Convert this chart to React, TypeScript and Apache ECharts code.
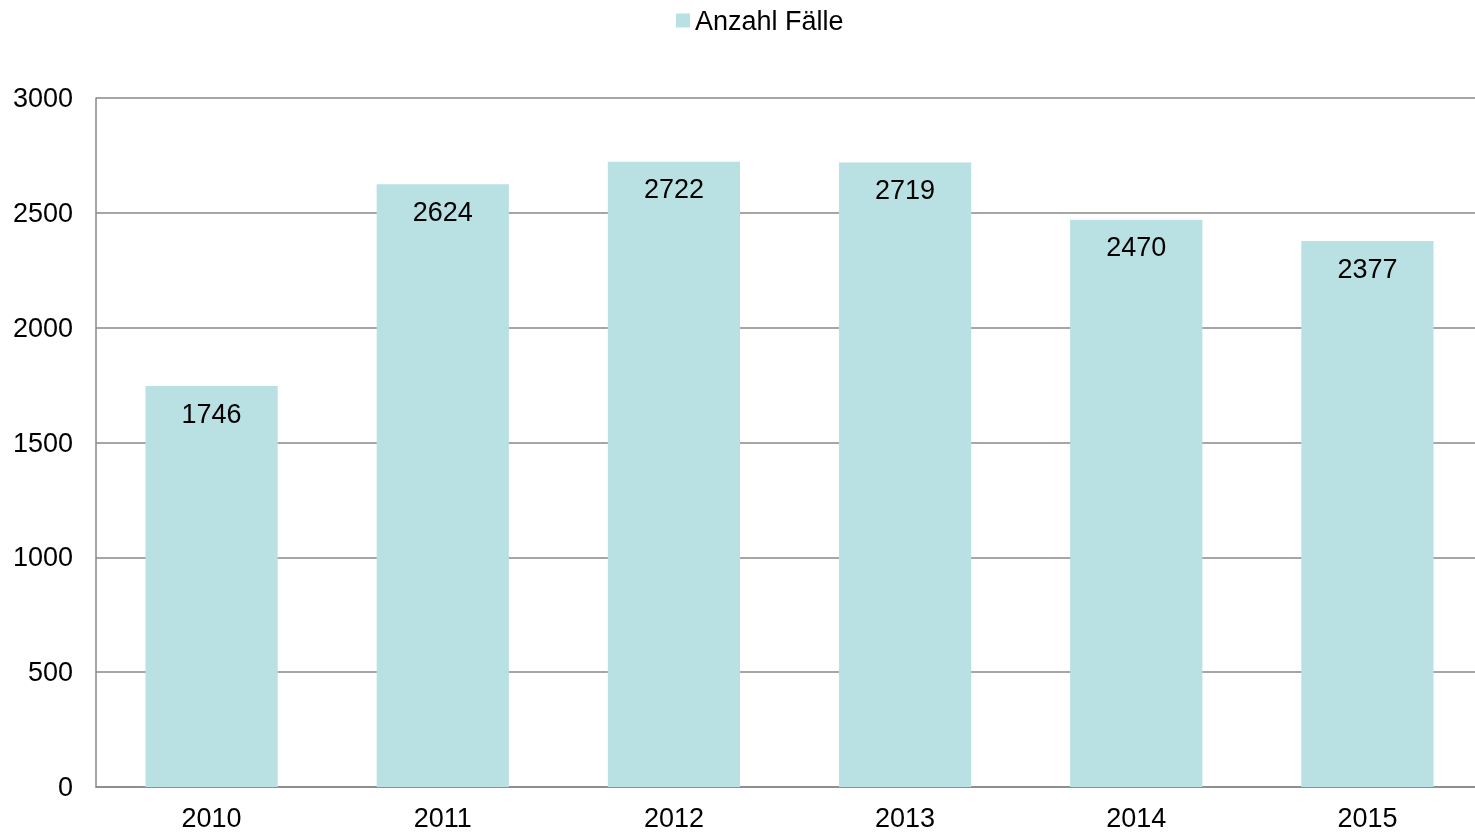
import React, { useEffect, useRef } from "react";
import * as echarts from "echarts";

const categories = ["2010", "2011", "2012", "2013", "2014", "2015"];
const values = [1746, 2624, 2722, 2719, 2470, 2377];
const seriesName = "Anzahl Fälle";

export default function App() {
  const ref = useRef<HTMLDivElement>(null);
  useEffect(() => {
    if (!ref.current) return;
    const chart = echarts.init(ref.current, undefined, { renderer: "svg" });
    const font = "Liberation Sans, Arial, sans-serif";
    chart.setOption({
      animation: false,
      textStyle: { fontFamily: font },
      legend: {
        top: 2,
        left: 671,
        itemWidth: 14,
        itemHeight: 14,
        itemGap: 10,
        icon: "rect",
        textStyle: { fontSize: 27, color: "#000", fontFamily: font },
        data: [seriesName],
      },
      grid: { left: 96, right: 0, top: 98, bottom: 45, containLabel: false },
      xAxis: {
        type: "category",
        data: categories,
        axisLine: { show: true, lineStyle: { color: "#888", width: 1.5 } },
        axisTick: { show: false },
        axisLabel: {
          fontSize: 27,
          lineHeight: 20,
          color: "#000",
          margin: 21,
          fontFamily: font,
        },
      },
      yAxis: {
        type: "value",
        min: 0,
        max: 3000,
        interval: 500,
        axisLine: { show: true, lineStyle: { color: "#888", width: 1.5 } },
        axisTick: { show: false },
        axisLabel: {
          fontSize: 27,
          color: "#000",
          margin: 23,
          fontFamily: font,
          formatter: (v: number) => String(v),
        },
        splitLine: { show: true, lineStyle: { color: "#888", width: 1.5 } },
      },
      series: [
        {
          name: seriesName,
          type: "bar",
          data: values,
          barCategoryGap: "42.8%",
          itemStyle: { color: "#b9e0e2" },
          label: {
            show: true,
            position: "insideTop",
            distance: 14,
            fontSize: 27,
            color: "#000",
            fontFamily: font,
          },
        },
      ],
    });
    return () => chart.dispose();
  }, []);
  return (
    <div
      style={{
        position: "fixed",
        left: 0,
        top: 0,
        width: 1475,
        height: 832,
        overflow: "hidden",
      }}
    >
      <div ref={ref} style={{ width: 1483, height: 832 }} />
    </div>
  );
}
